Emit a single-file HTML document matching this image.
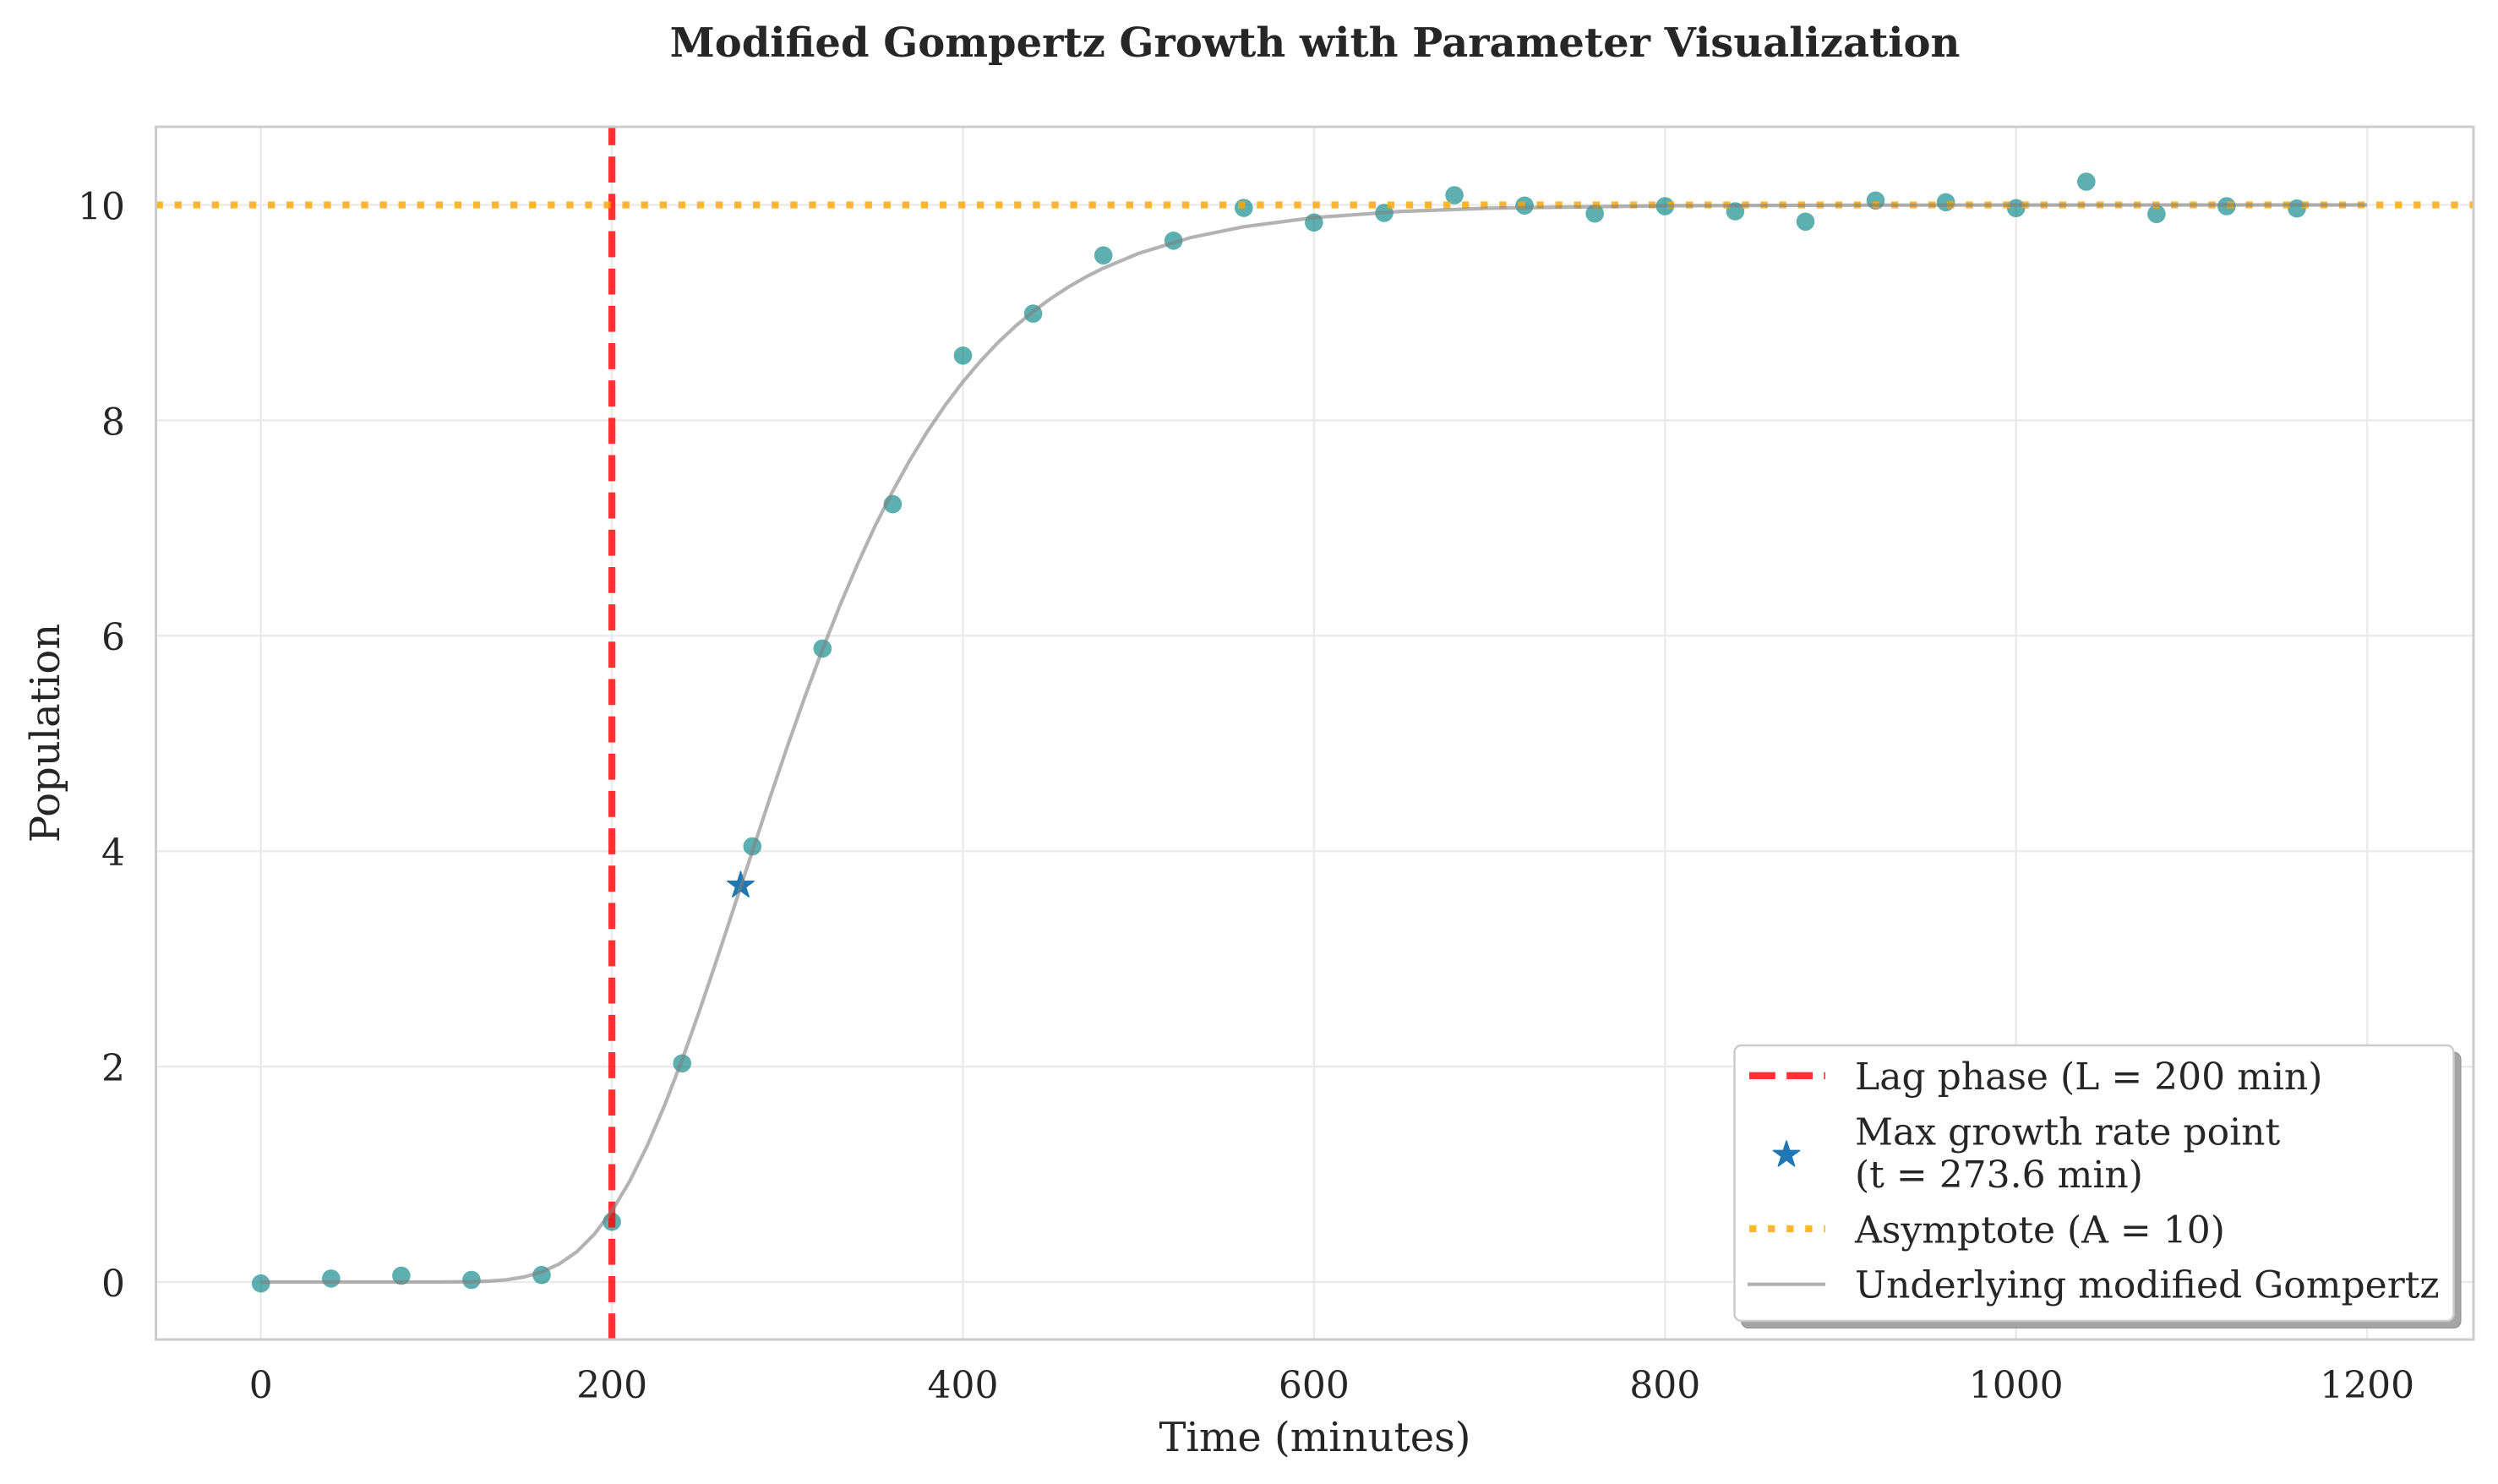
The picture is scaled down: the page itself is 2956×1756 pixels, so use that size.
<!DOCTYPE html>
<html>
<head>
<meta charset="utf-8">
<style>
  html, body { margin: 0; padding: 0; background: #ffffff; }
  svg { display: block; }
  text { font-family: "DejaVu Serif", "Liberation Serif", serif; fill: #262626; }
</style>
</head>
<body>
<svg width="2956" height="1756" viewBox="0 0 2956 1756" xmlns="http://www.w3.org/2000/svg">
  <rect x="0" y="0" width="2956" height="1756" fill="#ffffff"/>
  <defs>
    <clipPath id="ax">
      <rect x="184.5" y="150" width="2742.5" height="1435"/>
    </clipPath>
  </defs>

  <!-- Title -->
  <text x="1556" y="67" font-size="48" font-weight="bold" text-anchor="middle">Modified Gompertz Growth with Parameter Visualization</text>

  <!-- Grid -->
  <g stroke="#ebebeb" stroke-width="2.5">
    <line x1="308.7" y1="150" x2="308.7" y2="1585"/>
    <line x1="724.1" y1="150" x2="724.1" y2="1585"/>
    <line x1="1139.5" y1="150" x2="1139.5" y2="1585"/>
    <line x1="1554.9" y1="150" x2="1554.9" y2="1585"/>
    <line x1="1970.3" y1="150" x2="1970.3" y2="1585"/>
    <line x1="2385.7" y1="150" x2="2385.7" y2="1585"/>
    <line x1="2801.1" y1="150" x2="2801.1" y2="1585"/>
    <line x1="184.5" y1="1517" x2="2927" y2="1517"/>
    <line x1="184.5" y1="1262.1" x2="2927" y2="1262.1"/>
    <line x1="184.5" y1="1007.2" x2="2927" y2="1007.2"/>
    <line x1="184.5" y1="752.3" x2="2927" y2="752.3"/>
    <line x1="184.5" y1="497.4" x2="2927" y2="497.4"/>
    <line x1="184.5" y1="242.5" x2="2927" y2="242.5"/>
  </g>

  <g clip-path="url(#ax)">
    <!-- Scatter points -->
    <g fill="#008080" fill-opacity="0.63">
      <circle cx="308.7" cy="1518.7" r="10.8"/>
      <circle cx="391.8" cy="1512.9" r="10.8"/>
      <circle cx="474.9" cy="1509.5" r="10.8"/>
      <circle cx="557.9" cy="1514.5" r="10.8"/>
      <circle cx="641.0" cy="1508.7" r="10.8"/>
      <circle cx="724.1" cy="1445.7" r="10.8"/>
      <circle cx="807.2" cy="1258.3" r="10.8"/>
      <circle cx="890.3" cy="1001.5" r="10.8"/>
      <circle cx="973.3" cy="767.4" r="10.8"/>
      <circle cx="1056.4" cy="596.6" r="10.8"/>
      <circle cx="1139.5" cy="420.8" r="10.8"/>
      <circle cx="1222.6" cy="371.1" r="10.8"/>
      <circle cx="1305.7" cy="302.2" r="10.8"/>
      <circle cx="1388.7" cy="284.8" r="10.8"/>
      <circle cx="1471.8" cy="246" r="10.8"/>
      <circle cx="1554.9" cy="263.3" r="10.8"/>
      <circle cx="1638.0" cy="252" r="10.8"/>
      <circle cx="1721.1" cy="231" r="10.8"/>
      <circle cx="1804.1" cy="243.3" r="10.8"/>
      <circle cx="1887.2" cy="252.7" r="10.8"/>
      <circle cx="1970.3" cy="244" r="10.8"/>
      <circle cx="2053.4" cy="250" r="10.8"/>
      <circle cx="2136.5" cy="262.3" r="10.8"/>
      <circle cx="2219.5" cy="237.3" r="10.8"/>
      <circle cx="2302.6" cy="239.3" r="10.8"/>
      <circle cx="2385.7" cy="246.3" r="10.8"/>
      <circle cx="2468.8" cy="215" r="10.8"/>
      <circle cx="2551.9" cy="253.3" r="10.8"/>
      <circle cx="2634.9" cy="244" r="10.8"/>
      <circle cx="2718.0" cy="246.7" r="10.8"/>
    </g>

    <!-- Max growth rate star -->
    <polygon transform="translate(876.5,1047.8)" fill="#1f77b4" stroke="#1f77b4" stroke-width="1.5" stroke-linejoin="round"
      points="0,-16.5 3.71,-5.1 15.69,-5.1 5.99,1.95 9.7,13.35 0,6.3 -9.7,13.35 -5.99,1.95 -15.69,-5.1 -3.71,-5.1"/>

    <!-- Lag phase vertical dashed line -->
    <line x1="724.1" y1="1585" x2="724.1" y2="150" stroke="#ff0000" stroke-opacity="0.8" stroke-width="8.33" stroke-dasharray="30.83 13.33"/>

    <!-- Asymptote dotted line -->
    <line x1="184.5" y1="242.5" x2="2927" y2="242.5" stroke="#ffa500" stroke-opacity="0.8" stroke-width="8.33" stroke-dasharray="8.33 13.75"/>

    <!-- Underlying curve -->
    <polyline fill="none" stroke="#808080" stroke-opacity="0.6" stroke-width="4.2" stroke-linejoin="round"
      points="308.7,1517 516.4,1517 557.9,1516.6 578.7,1515.9 599.5,1514.3 620.3,1511.0 641.0,1505.2 661.8,1495.6 682.6,1481.1 703.3,1460.4 724.1,1432.9 744.9,1398.2 765.6,1356.4 786.4,1308.0 807.2,1254.1 827.9,1195.6 848.7,1134.1 869.5,1070.9 890.3,1007.2 911.0,944.4 931.8,883.0 952.6,824.2 973.3,768.4 994.1,716.0 1014.9,667.3 1035.6,622.3 1056.4,581.2 1077.2,543.7 1097.9,509.8 1118.7,479.2 1139.5,451.8 1160.3,427.2 1181.0,405.3 1201.8,385.8 1222.6,368.5 1243.4,353.3 1264.1,339.7 1284.9,327.8 1305.7,317.3 1347.2,299.9 1409.5,281.0 1471.8,268.3 1554.9,257.5 1658.7,250.1 1762.6,246.4 1970.3,243.5 2178.0,242.8 2385.7,242.6 2801.1,242.5"/>
  </g>

  <!-- Spines -->
  <rect x="184.5" y="150" width="2742.5" height="1435" fill="none" stroke="#cccccc" stroke-width="3"/>

  <!-- Y tick labels -->
  <g font-size="44" text-anchor="end">
    <text x="148" y="1534">0</text>
    <text x="148" y="1279">2</text>
    <text x="148" y="1024">4</text>
    <text x="148" y="769">6</text>
    <text x="148" y="514.5">8</text>
    <text x="148" y="259.5">10</text>
  </g>

  <!-- X tick labels -->
  <g font-size="44" text-anchor="middle">
    <text x="308.7" y="1654">0</text>
    <text x="724.1" y="1654">200</text>
    <text x="1139.5" y="1654">400</text>
    <text x="1554.9" y="1654">600</text>
    <text x="1970.3" y="1654">800</text>
    <text x="2385.7" y="1654">1000</text>
    <text x="2801.1" y="1654">1200</text>
  </g>

  <!-- Axis labels -->
  <text x="1556" y="1717" font-size="48" text-anchor="middle">Time (minutes)</text>
  <text transform="translate(70,867.5) rotate(-90)" font-size="48" text-anchor="middle">Population</text>

  <!-- Legend -->
  <rect x="2060.8" y="1245.3" width="851" height="326" rx="8" ry="8" fill="#a5a5a5" stroke="#999999" stroke-width="1.5"/>
  <rect x="2052.5" y="1237" width="851" height="326" rx="8" ry="8" fill="#ffffff" stroke="#cccccc" stroke-width="2.5"/>

  <line x1="2070" y1="1272.8" x2="2160" y2="1272.8" stroke="#ff0000" stroke-opacity="0.8" stroke-width="8.33" stroke-dasharray="30.83 13.33"/>
  <polygon transform="translate(2114,1366.5)" fill="#1f77b4" stroke="#1f77b4" stroke-width="1.5" stroke-linejoin="round"
      points="0,-16.5 3.71,-5.1 15.69,-5.1 5.99,1.95 9.7,13.35 0,6.3 -9.7,13.35 -5.99,1.95 -15.69,-5.1 -3.71,-5.1"/>
  <line x1="2070" y1="1454" x2="2160" y2="1454" stroke="#ffa500" stroke-opacity="0.8" stroke-width="8.33" stroke-dasharray="8.33 13.75"/>
  <line x1="2070" y1="1519.7" x2="2158" y2="1519.7" stroke="#808080" stroke-opacity="0.6" stroke-width="4.2" stroke-linecap="square"/>

  <g font-size="44">
    <text x="2195" y="1289">Lag phase (L = 200 min)</text>
    <text x="2195" y="1354.3">Max growth rate point</text>
    <text x="2195" y="1405">(t = 273.6 min)</text>
    <text x="2195" y="1470.7">Asymptote (A = 10)</text>
    <text x="2195" y="1535.7">Underlying modified Gompertz</text>
  </g>
</svg>
</body>
</html>
